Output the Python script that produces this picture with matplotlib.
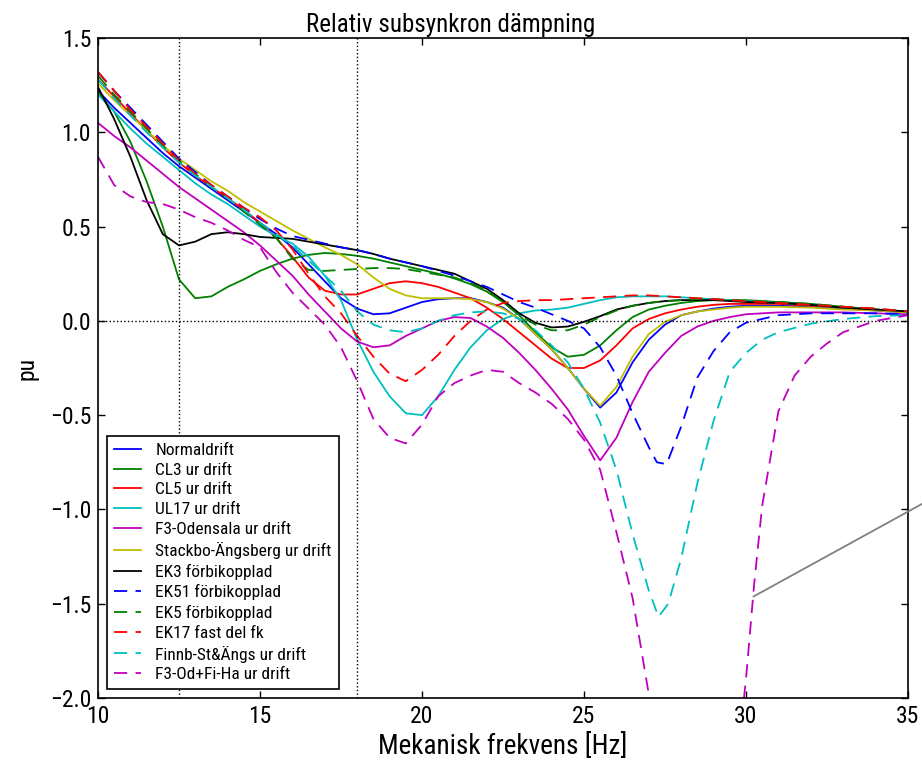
import numpy as np
import matplotlib
matplotlib.use('Agg')
import matplotlib.pyplot as plt

plt.rcParams['font.family'] = ['Roboto Condensed', 'DejaVu Sans']
plt.rcParams['lines.scale_dashes'] = False
plt.rcParams['xtick.direction'] = 'in'
plt.rcParams['ytick.direction'] = 'in'
plt.rcParams['xtick.top'] = True
plt.rcParams['ytick.right'] = True

# common frequency grid [Hz]
freq = [10, 10.5, 11, 11.5, 12, 12.5, 13, 13.5, 14, 14.5, 15, 15.5, 16, 16.5, 17, 17.5,
        18, 18.5, 19, 19.5, 20, 20.5, 21, 21.5, 22, 22.5, 23, 23.5, 24, 24.5, 25, 25.5,
        26, 26.5, 27, 27.5, 28, 28.5, 29, 29.5, 30, 31, 32, 33, 34, 35]

normaldrift = [1.22, 1.13, 1.05, 0.97, 0.89, 0.82, 0.76, 0.70, 0.64, 0.58, 0.52, 0.46, 0.39, 0.30, 0.21, 0.12,
               0.065, 0.035, 0.04, 0.07, 0.10, 0.115, 0.12, 0.12, 0.10, 0.07, 0.01, -0.07, -0.15, -0.25, -0.36, -0.46,
               -0.38, -0.22, -0.10, -0.02, 0.03, 0.05, 0.065, 0.075, 0.08, 0.08, 0.075, 0.065, 0.055, 0.045]
cl3 = [1.21, 1.11, 0.95, 0.74, 0.50, 0.22, 0.12, 0.13, 0.18, 0.22, 0.265, 0.30, 0.33, 0.35, 0.36, 0.355,
       0.345, 0.33, 0.31, 0.29, 0.27, 0.25, 0.225, 0.195, 0.155, 0.10, 0.03, -0.06, -0.14, -0.19, -0.18, -0.13,
       -0.05, 0.02, 0.06, 0.08, 0.095, 0.105, 0.11, 0.11, 0.11, 0.10, 0.09, 0.075, 0.06, 0.05]
cl5 = [1.28, 1.19, 1.10, 1.01, 0.92, 0.84, 0.77, 0.71, 0.65, 0.59, 0.52, 0.44, 0.34, 0.23, 0.16, 0.14,
       0.14, 0.17, 0.20, 0.21, 0.20, 0.18, 0.15, 0.12, 0.07, 0.01, -0.06, -0.13, -0.20, -0.25, -0.25, -0.21,
       -0.13, -0.04, 0.01, 0.04, 0.06, 0.075, 0.085, 0.09, 0.09, 0.09, 0.08, 0.07, 0.06, 0.045]
ul17 = [1.20, 1.11, 1.02, 0.94, 0.87, 0.80, 0.73, 0.67, 0.62, 0.56, 0.50, 0.45, 0.41, 0.34, 0.24, 0.11,
        -0.10, -0.27, -0.40, -0.49, -0.50, -0.40, -0.26, -0.14, -0.05, 0.01, 0.04, 0.055, 0.06, 0.07, 0.09, 0.11,
        0.125, 0.13, 0.13, 0.13, 0.125, 0.12, 0.115, 0.11, 0.105, 0.095, 0.085, 0.07, 0.06, 0.05]
f3_odensala = [1.05, 0.98, 0.92, 0.85, 0.78, 0.71, 0.65, 0.59, 0.53, 0.47, 0.40, 0.32, 0.24, 0.14, 0.05, -0.04,
               -0.11, -0.14, -0.13, -0.08, -0.04, 0.0, 0.02, 0.015, -0.03, -0.09, -0.17, -0.26, -0.36, -0.47, -0.61, -0.74,
               -0.62, -0.43, -0.27, -0.17, -0.08, -0.03, 0.0, 0.02, 0.035, 0.045, 0.045, 0.045, 0.04, 0.035]
stackbo = [1.26, 1.17, 1.09, 1.01, 0.93, 0.86, 0.80, 0.74, 0.69, 0.63, 0.58, 0.53, 0.48, 0.435, 0.39, 0.35,
           0.30, 0.23, 0.17, 0.135, 0.12, 0.12, 0.12, 0.115, 0.10, 0.065, 0.01, -0.07, -0.15, -0.25, -0.36, -0.45,
           -0.35, -0.19, -0.07, -0.005, 0.03, 0.05, 0.06, 0.07, 0.075, 0.075, 0.07, 0.06, 0.055, 0.045]
ek3 = [1.24, 1.07, 0.87, 0.64, 0.46, 0.40, 0.42, 0.46, 0.47, 0.46, 0.445, 0.44, 0.435, 0.42, 0.405, 0.39,
       0.375, 0.355, 0.33, 0.31, 0.29, 0.27, 0.25, 0.21, 0.17, 0.11, 0.04, -0.01, -0.035, -0.03, -0.005, 0.025,
       0.06, 0.08, 0.095, 0.105, 0.11, 0.11, 0.11, 0.105, 0.10, 0.095, 0.085, 0.07, 0.06, 0.05]
ek5 = [1.30, 1.20, 1.11, 1.02, 0.93, 0.85, 0.78, 0.71, 0.65, 0.58, 0.51, 0.44, 0.33, 0.27, 0.265, 0.27,
       0.275, 0.28, 0.28, 0.275, 0.26, 0.245, 0.23, 0.20, 0.16, 0.10, 0.03, -0.02, -0.05, -0.05, -0.02, 0.02,
       0.055, 0.08, 0.095, 0.105, 0.11, 0.115, 0.115, 0.11, 0.105, 0.10, 0.09, 0.075, 0.065, 0.05]
ek17 = [1.32, 1.22, 1.12, 1.03, 0.94, 0.85, 0.78, 0.72, 0.66, 0.60, 0.55, 0.48, 0.38, 0.25, 0.13, 0.04,
        -0.08, -0.19, -0.28, -0.32, -0.26, -0.18, -0.08, 0.0, 0.06, 0.095, 0.105, 0.11, 0.11, 0.115, 0.12, 0.125,
        0.13, 0.135, 0.135, 0.13, 0.125, 0.12, 0.115, 0.11, 0.105, 0.095, 0.085, 0.075, 0.065, 0.05]

# the three cases with deep dips have their own frequency points
freq_ek51 = [10, 10.5, 11, 11.5, 12, 12.5, 13, 13.5, 14, 14.5, 15, 15.5, 16, 16.5, 17, 17.5,
             18, 18.5, 19, 19.5, 20, 20.5, 21, 21.5, 22, 22.5, 23, 23.5, 24, 24.5, 25, 25.5,
             26, 26.5, 27, 27.25, 27.55, 28, 28.5, 29, 29.5, 30, 31, 32, 33, 34, 35]
ek51 = [1.32, 1.22, 1.13, 1.04, 0.95, 0.86, 0.79, 0.72, 0.66, 0.60, 0.54, 0.49, 0.45, 0.43, 0.41, 0.39,
        0.375, 0.355, 0.33, 0.31, 0.29, 0.265, 0.24, 0.21, 0.18, 0.14, 0.10, 0.07, 0.035, 0.0, -0.04, -0.14,
        -0.29, -0.49, -0.67, -0.75, -0.76, -0.56, -0.30, -0.16, -0.06, -0.01, 0.03, 0.04, 0.04, 0.04, 0.035]

freq_finnb = [10, 10.5, 11, 11.5, 12, 12.5, 13, 13.5, 14, 14.5, 15, 15.5, 16, 16.5, 17, 17.5,
              18, 18.5, 19, 19.5, 20, 20.5, 21, 21.5, 22, 22.5, 23, 23.5, 24, 24.5, 25, 25.5,
              26, 26.5, 27, 27.3, 27.6, 28, 28.5, 29, 29.5, 30, 30.5, 31, 32, 33, 34, 35]
finnb = [1.28, 1.18, 1.09, 1.00, 0.92, 0.84, 0.77, 0.71, 0.65, 0.59, 0.52, 0.46, 0.40, 0.32, 0.24, 0.16,
         0.05, -0.02, -0.05, -0.06, -0.04, 0.0, 0.03, 0.045, 0.05, 0.04, 0.01, -0.05, -0.13, -0.22, -0.36, -0.54,
         -0.79, -1.13, -1.43, -1.57, -1.50, -1.26, -0.86, -0.53, -0.27, -0.17, -0.10, -0.06, -0.015, 0.01, 0.025, 0.03]

freq_f3od = [10, 10.5, 11, 11.5, 12, 12.5, 13, 13.5, 14, 14.5, 15, 15.5, 16, 16.5, 17, 17.5,
             18, 18.5, 19, 19.5, 20, 20.5, 21, 21.5, 22, 22.5, 23, 23.5, 24, 24.5, 25, 25.5,
             26, 26.5, 27, 27.5, 28, 28.5, 29, 29.5, 30, 30.25, 30.5, 31, 31.5, 32, 32.5, 33, 34, 35]
f3od = [0.87, 0.72, 0.66, 0.63, 0.62, 0.59, 0.55, 0.52, 0.48, 0.43, 0.39, 0.26, 0.15, 0.065, -0.02, -0.14,
        -0.32, -0.52, -0.62, -0.65, -0.55, -0.40, -0.33, -0.29, -0.26, -0.27, -0.33, -0.38, -0.44, -0.52, -0.63, -0.79,
        -1.12, -1.47, -1.98, -2.6, -3.1, -3.4, -3.2, -2.7, -1.9, -1.40, -0.98, -0.48, -0.29, -0.19, -0.12, -0.06, 0.0, 0.03]

series = [
    (freq, normaldrift, 'b', '-', 'Normaldrift'),
    (freq, cl3, 'g', '-', 'CL3 ur drift'),
    (freq, cl5, 'r', '-', 'CL5 ur drift'),
    (freq, ul17, 'c', '-', 'UL17 ur drift'),
    (freq, f3_odensala, 'm', '-', 'F3-Odensala ur drift'),
    (freq, stackbo, 'y', '-', 'Stackbo-\u00c4ngsberg ur drift'),
    (freq, ek3, 'k', '-', 'EK3 f\u00f6rbikopplad'),
    (freq_ek51, ek51, 'b', '--', 'EK51 f\u00f6rbikopplad'),
    (freq, ek5, 'g', '--', 'EK5 f\u00f6rbikopplad'),
    (freq, ek17, 'r', '--', 'EK17 fast del fk'),
    (freq_finnb, finnb, 'c', '--', 'Finnb-St&\u00c4ngs ur drift'),
    (freq_f3od, f3od, 'm', '--', 'F3-Od+Fi-Ha ur drift'),
]
old_colors = {'b': (0, 0, 1), 'g': (0, 0.5, 0), 'r': (1, 0, 0), 'c': (0, 0.75, 0.75),
              'm': (0.75, 0, 0.75), 'y': (0.75, 0.75, 0), 'k': (0, 0, 0)}

fig = plt.figure(figsize=(9.22, 7.62), dpi=100)
ax = fig.add_axes([0.1063, 0.084, 0.8785, 0.8661])

for f, v, c, ls, lab in series:
    line, = ax.plot(f, v, color=old_colors[c], lw=1.3, label=lab)
    if ls == '--':
        line.set_dashes((9.5, 6))

ax.axvline(12.5, color='k', ls=':', lw=1)
ax.axvline(18, color='k', ls=':', lw=1)
ax.axhline(0, color='k', ls=':', lw=1)

ax.annotate('', xy=(30.23, -1.462), xytext=(36.5, -0.87), annotation_clip=False,
            arrowprops=dict(arrowstyle='-', color='gray', lw=1.3, shrinkA=0, shrinkB=0))

ax.set_xlim(10, 35)
ax.set_ylim(-2.0, 1.5)
ax.set_xticks([10, 15, 20, 25, 30, 35])
ax.set_yticks(np.arange(-2.0, 1.51, 0.5))
ax.tick_params(labelsize=17, length=5, width=1, pad=5)
for s in ax.spines.values():
    s.set_linewidth(1.2)
ax.set_title('Relativ subsynkron d\u00e4mpning', fontsize=18, x=0.435, pad=4)
ax.set_xlabel('Mekanisk frekvens [Hz]', fontsize=19.5, labelpad=4)
ax.set_ylabel('pu', fontsize=17, labelpad=8)

leg = ax.legend(loc='lower left', fontsize=12.5, fancybox=False, framealpha=1,
                edgecolor='k', handlelength=1.6, labelspacing=0.27, borderaxespad=0.5)
leg.get_frame().set_linewidth(1.2)

fig.savefig('out.png', dpi=100)
